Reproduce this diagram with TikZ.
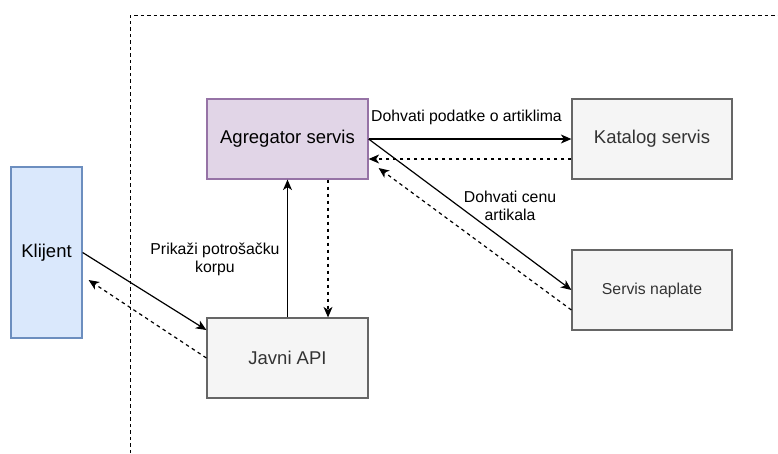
\documentclass[tikz,border=0pt]{standalone}
\usepackage{fontspec}
\setmainfont{Liberation Sans}
\usetikzlibrary{arrows.meta,calc}
\definecolor{aggfill}{HTML}{E1D5E7}
\definecolor{aggdraw}{HTML}{9673A6}
\definecolor{grayfill}{HTML}{F5F5F5}
\definecolor{graydraw}{HTML}{666666}
\definecolor{graytext}{HTML}{333333}
\definecolor{blufill}{HTML}{DAE8FC}
\definecolor{bludraw}{HTML}{6C8EBF}
\tikzset{
  box/.style={rectangle, line width=1.2pt, inner sep=0pt, font=\fontsize{18.5}{21}\selectfont},
  aggbox/.style={box, fill=aggfill, draw=aggdraw, minimum width=161pt, minimum height=80pt},
  graybox/.style={box, fill=grayfill, draw=graydraw, text=graytext, minimum width=160pt, minimum height=80pt},
  clibox/.style={box, fill=blufill, draw=bludraw, minimum width=71pt, minimum height=171pt},
  lbl/.style={font=\fontsize{15.8}{18}\selectfont, align=center, inner sep=0pt},
  req/.style={line width=1.2pt, -{Stealth[length=10.5pt,width=9pt,inset=3pt]}},
  resp/.style={req, dash pattern=on 3.5pt off 3.5pt},
  zone/.style={line width=1pt, dash pattern=on 3.5pt off 3pt}
}
\begin{document}
\begin{tikzpicture}[x=1pt,y=-1pt]
\useasboundingbox (0,0) rectangle (778,453);
% boundary
\coordinate (zb) at (130,453);
\coordinate (zc) at (130,15);
\coordinate (zr) at (778,15);
\draw[zone] (zb) -- (zc) -- (zr);
% nodes
\node[aggbox] (agg) at (287.5,139) {Agregator servis};
\node[graybox] (kat) at (652,139) {Katalog servis};
\node[graybox, font=\fontsize{15.8}{18}\selectfont] (nap) at (652,290) {Servis naplate};
\node[clibox] (kli) at (46.5,252.5) {Klijent};
\node[graybox, minimum width=161pt] (api) at (287.5,358) {Javni API};
% connectors
\draw[req] (agg.east) -- (kat.west);
\draw[resp] ($(kat.west)+(0,20)$) -- ($(agg.east)+(0,20)$);
\draw[req] (agg.east) -- (nap.west);
\draw[resp] ($(nap.west)+(0,20)$) -- ($(agg.east)+(10,29)$);
\draw[req] (kli.east) -- ($(api.west)+(0,-28)$);
\draw[resp] (api.west) -- ($(kli.east)+(6,27.5)$);
\draw[req] (api.north) -- (agg.south);
\draw[resp] ($(agg.south)+(40.5,0)$) -- ($(api.north)+(40.5,0)$);
% labels
\node[lbl] (l1) at (466.5,117) {Dohvati podatke o artiklima};
\node[lbl] (l2) at (510,206) {Dohvati cenu\\artikala};
\node[lbl] (l3) at (215,259) {Prikaži potrošačku\\korpu};
\end{tikzpicture}
\end{document}
